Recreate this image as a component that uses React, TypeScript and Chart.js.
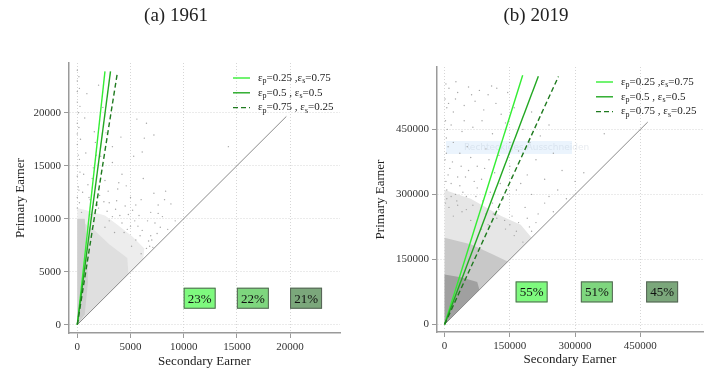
import React, { useEffect, useRef } from "react";
import { Chart, registerables } from "chart.js";
Chart.register(...registerables);

const FONT = "Liberation Serif";

// ---------- Panel (a) 1961 ----------
const titleA = "(a) 1961";
const ticksA = [0, 5000, 10000, 15000, 20000];
const diagA: number[][] = [[0, 0], [19650, 19650]];
const line25A: number[][] = [[0, 0], [2600, 23900]];
const line50A: number[][] = [[0, 0], [3120, 23900]];
const line75A: number[][] = [[0, 0], [3780, 23850]];
const cloudOuterA: number[][] = [[0, 0], [6200, 6200], [6300, 7200], [5200, 8300], [3800, 9400], [2600, 10300], [1200, 10700], [0, 11000]];
const cloudMidA: number[][] = [[0, 0], [4800, 4800], [4700, 6300], [3000, 7600], [1500, 9000], [0, 10000]];
const cloudCoreA: number[][] = [[0, 0], [700, 1000], [1000, 4000], [900, 7500], [700, 10000], [0, 10000]];
const pointsA: number[][] = [
  [0, 11000], [0, 12000], [100, 13000], [0, 14000], [0, 15000], [100, 16000], [0, 17000], [0, 18000], [0, 19000],
  [100, 20000], [0, 21000], [0, 22000], [0, 23000], [0, 24000], [200, 11500], [150, 12700], [250, 14400], [200, 15600],
  [300, 17500], [150, 18600], [250, 20600], [200, 22300], [150, 23400],
  [500, 12500], [1200, 11800], [2100, 12200], [3000, 11500], [3800, 12800], [4500, 11200], [5200, 10800], [6000, 11800],
  [6900, 10600], [7600, 11300], [8800, 11400], [2600, 13600], [1500, 14800], [4200, 14200], [3300, 15300], [800, 16200],
  [1700, 17200], [5300, 15900], [6200, 13800], [7200, 12400], [4800, 10400], [1000, 13200], [2800, 10700], [6600, 9800],
  [7800, 9200], [5700, 9300], [6900, 8400], [1600, 18200], [5600, 19400], [6500, 19000], [7200, 17900], [6300, 17600],
  [14200, 16800], [2400, 20500], [900, 21800], [3300, 16800], [6100, 16300], [4100, 17700], [2000, 22600], [700, 19500],
  [6500, 7200], [7000, 8000], [5900, 8400], [4700, 9000], [8000, 10200], [9200, 9800], [7500, 8600], [5400, 9800],
  [3600, 10900], [1900, 11300], [400, 10600], [1300, 10400], [5000, 12000], [2200, 15900], [4600, 13100], [8300, 12600],
  [3000, 9800], [4200, 9600], [5500, 8000], [6800, 7400], [7300, 9600], [8500, 9000], [2000, 11000], [3300, 10200],
  [4000, 10300], [5000, 9300], [6100, 8900], [6700, 7900], [7100, 7300], [3700, 11700], [2500, 11600], [1100, 12000],
  [5800, 10300], [4400, 8700], [5100, 7400], [6000, 6700], [3500, 8700], [2600, 9200], [7600, 10500], [8200, 11800],
  [1400, 13800], [2900, 12600], [3900, 13400], [5500, 11300], [600, 14200], [1800, 16000], [2700, 18100],
];
const boxXA = [11500, 16500, 21500];
const boxYA = [2500, 2500, 2500];
const boxLabelsA = ["23%", "22%", "21%"];

// ---------- Panel (b) 2019 ----------
const titleB = "(b) 2019";
const ticksB = [0, 150000, 300000, 450000];
const diagB: number[][] = [[0, 0], [467000, 467000]];
const line25B: number[][] = [[0, 0], [179500, 575000]];
const line50B: number[][] = [[0, 0], [215500, 572500]];
const line75B: number[][] = [[0, 0], [261700, 572000]];
const cloudOuterB: number[][] = [[0, 0], [200000, 200000], [175000, 230000], [130000, 250000], [60000, 290000], [0, 310000]];
const cloudMidB: number[][] = [[0, 0], [145000, 145000], [110000, 162000], [60000, 185000], [0, 200000]];
const cloudCoreB: number[][] = [[0, 0], [80000, 80000], [75000, 98000], [40000, 108000], [0, 115000]];
const pointsB: number[][] = [
  [10000, 545000], [30000, 535000], [55000, 548000], [80000, 540000], [100000, 530000], [120000, 545000], [145000, 535000],
  [25000, 520000], [70000, 515000], [5000, 500000], [20000, 490000], [45000, 505000], [90000, 495000], [130000, 485000],
  [160000, 500000], [200000, 490000], [15000, 460000], [40000, 445000], [65000, 455000], [110000, 440000], [140000, 465000],
  [180000, 450000], [220000, 435000], [367000, 440000], [8000, 410000], [35000, 395000], [60000, 385000], [95000, 405000],
  [125000, 390000], [170000, 400000], [210000, 380000], [250000, 395000], [12000, 360000], [30000, 340000], [55000, 355000],
  [85000, 335000], [115000, 350000], [150000, 365000], [190000, 345000], [230000, 335000], [270000, 355000], [320000, 350000],
  [5000, 310000], [25000, 300000], [50000, 295000], [75000, 315000], [105000, 305000], [135000, 290000], [165000, 310000],
  [200000, 300000], [240000, 295000], [280000, 290000], [10000, 270000], [40000, 260000], [65000, 275000], [95000, 255000],
  [125000, 265000], [155000, 250000], [185000, 270000], [215000, 255000], [250000, 260000], [100000, 230000], [140000, 220000],
  [170000, 235000], [195000, 225000], [160000, 205000], [180000, 190000], [200000, 215000], [120000, 245000], [2000, 280000],
  [3000, 330000], [1000, 380000], [4000, 430000], [2000, 470000], [1000, 520000], [3000, 555000], [20000, 420000],
  [45000, 470000], [75000, 365000], [110000, 280000], [35000, 320000], [60000, 240000], [85000, 220000], [20000, 250000],
  [5000, 290000], [8000, 345000], [4000, 395000], [6000, 450000], [9000, 510000], [15000, 325000], [18000, 375000],
  [28000, 285000], [42000, 305000], [48000, 340000], [38000, 365000], [52000, 410000], [68000, 330000], [72000, 295000],
  [88000, 285000], [92000, 360000], [102000, 380000], [128000, 325000], [145000, 300000], [155000, 340000], [175000, 325000],
  [112000, 255000], [138000, 240000], [150000, 230000], [165000, 215000], [190000, 245000], [210000, 235000], [230000, 280000],
  [78000, 250000], [50000, 265000], [30000, 275000], [15000, 295000], [260000, 310000], [300000, 330000], [26000, 560000],
  [62000, 530000], [108000, 550000], [86000, 470000], [118000, 510000], [150000, 420000], [196000, 420000], [240000, 460000],
];
const boxXB = [200000, 350000, 500000];
const boxYB = [75000, 75000, 75000];
const boxLabelsB = ["55%", "51%", "45%"];

// ---------- shared legend ----------
const legendLabels = ["ε_p=0.25 ,ε_s=0.75", "ε_p=0.5 , ε_s=0.5", "ε_p=0.75 , ε_s=0.25"];
const lineColors = ["#34ee34", "#22a822", "#1f7a1f"];
const lineDashes = [[], [], [5, 3]];
const boxColors = ["#7efa7e", "#7ed67e", "#7ba77b"];

const toXY = (arr: number[][]) => arr.map(([x, y]) => ({ x, y }));

type Cfg = {
  title: string; ticks: number[]; min: number; max: number;
  diag: number[][]; lines: number[][][]; clouds: number[][][]; cloudColors: string[];
  points: number[][]; boxX: number[]; boxY: number[]; boxLabels: string[];
  yWidth: number; xHeight: number; padRight: number; padTop: number; xTitlePad: number;
  ghost?: boolean;
};

function drawLegendText(ctx: CanvasRenderingContext2D, text: string, x: number, y: number) {
  let cx = x;
  let i = 0;
  while (i < text.length) {
    const ch = text[i];
    if (ch === "_") {
      ctx.font = `8px "${FONT}"`;
      ctx.fillText(text[i + 1], cx, y + 3);
      cx += ctx.measureText(text[i + 1]).width;
      i += 2;
    } else {
      ctx.font = `11px "${FONT}"`;
      ctx.fillText(ch, cx, y);
      cx += ctx.measureText(ch).width;
      i += 1;
    }
  }
}

function Panel({ cfg, left }: { cfg: Cfg; left: number }) {
  const ref = useRef<HTMLCanvasElement>(null);
  useEffect(() => {
    const clouds = {
      id: "clouds" + left,
      beforeDatasetsDraw(chart: any) {
        const ctx = chart.ctx as CanvasRenderingContext2D;
        const xs = chart.scales.x, ys = chart.scales.y;
        const area = chart.chartArea;
        ctx.save();
        ctx.beginPath();
        ctx.rect(area.left, area.top, area.right - area.left, area.bottom - area.top);
        ctx.clip();
        cfg.clouds.forEach((poly, i) => {
          ctx.fillStyle = cfg.cloudColors[i];
          ctx.beginPath();
          poly.forEach(([x, y], j) => {
            const px = xs.getPixelForValue(x), py = ys.getPixelForValue(y);
            if (j === 0) ctx.moveTo(px, py); else ctx.lineTo(px, py);
          });
          ctx.closePath();
          ctx.fill();
        });
        if (cfg.ghost) {
          ctx.fillStyle = "rgba(228,240,252,0.75)";
          ctx.fillRect(area.left + 9, area.top + 74, 126, 13);
          ctx.fillStyle = "rgba(175,190,205,0.3)";
          ctx.font = `9px "DejaVu Sans"`;
          ctx.textBaseline = "middle";
          ctx.fillText("Rechteckiges Ausschneiden", area.left + 27, area.top + 80.5);
        }
        ctx.restore();
      },
    };
    const overlay = {
      id: "overlay" + left,
      afterDatasetsDraw(chart: any) {
        const ctx = chart.ctx as CanvasRenderingContext2D;
        const xs = chart.scales.x, ys = chart.scales.y;
        const area = chart.chartArea;
        ctx.save();
        ctx.textBaseline = "middle";
        ctx.fillStyle = "#222";
        for (let i = 0; i < legendLabels.length; i++) {
          const y = area.top + 15 + i * 14.8;
          const x0 = area.right - 107;
          ctx.strokeStyle = lineColors[i];
          ctx.lineWidth = 1.4;
          ctx.setLineDash(lineDashes[i]);
          ctx.beginPath();
          ctx.moveTo(x0, y);
          ctx.lineTo(x0 + 17, y);
          ctx.stroke();
          ctx.setLineDash([]);
          ctx.fillStyle = "#222";
          drawLegendText(ctx, legendLabels[i], x0 + 25, y);
        }
        for (let i = 0; i < cfg.boxLabels.length; i++) {
          const cx = xs.getPixelForValue(cfg.boxX[i]);
          const cy = ys.getPixelForValue(cfg.boxY[i]);
          const w = 32, h = 21;
          ctx.fillStyle = boxColors[i];
          ctx.fillRect(cx - w / 2, cy - h / 2, w, h);
          ctx.strokeStyle = "#566356";
          ctx.lineWidth = 1;
          ctx.strokeRect(cx - w / 2 + 0.5, cy - h / 2 + 0.5, w - 1, h - 1);
          ctx.fillStyle = "#111";
          ctx.font = `13px "${FONT}"`;
          ctx.textAlign = "center";
          ctx.textBaseline = "middle";
          ctx.fillText(cfg.boxLabels[i], cx, cy + 1);
          ctx.textAlign = "left";
        }
        ctx.restore();
      },
    };

    const axisCommon = (isX: boolean) => ({
      type: "linear" as const,
      min: cfg.min,
      max: cfg.max,
      afterBuildTicks: (s: any) => { s.ticks = cfg.ticks.map((v) => ({ value: v })); },
      afterFit: (s: any) => { if (isX) s.height = cfg.xHeight; else s.width = cfg.yWidth; },
      grid: { color: "#d6d6d6", lineWidth: 1, tickLength: 5, tickColor: "#9a9a9a", tickBorderDash: [], tickWidth: 1 },
      border: { display: true, color: "#9a9a9a", width: 1.5, dash: [1, 2] },
      ticks: {
        color: "#333", font: { family: FONT, size: 11 }, padding: 3, maxRotation: 0, autoSkip: false,
        callback: (v: any) => String(v),
      },
      title: {
        display: true, text: isX ? "Secondary Earner" : "Primary Earner", color: "#222",
        font: { family: FONT, size: 13 },
        padding: isX ? { top: 0, bottom: cfg.xTitlePad } : { top: 13, bottom: 0 },
      },
    });

    const datasets: any[] = [];
    datasets.push({
      type: "scatter", data: toXY(cfg.points), pointRadius: 0.7, pointBorderWidth: 0,
      backgroundColor: "#a6a6a6", borderColor: "#a6a6a6", order: 10,
    });
    datasets.push({
      type: "line", data: toXY(cfg.diag), borderColor: "#8a8a8a", borderWidth: 1, pointRadius: 0, fill: false, order: 5,
    });
    cfg.lines.forEach((ln, i) => {
      datasets.push({
        type: "line", data: toXY(ln), borderColor: lineColors[i], borderWidth: 1.4, borderDash: lineDashes[i],
        pointRadius: 0, fill: false, order: 3 - i,
      });
    });

    const chart = new Chart(ref.current!, {
      type: "scatter",
      data: { datasets },
      options: {
        animation: false,
        responsive: false,
        devicePixelRatio: 1,
        layout: { padding: { left: 0, right: cfg.padRight, top: cfg.padTop, bottom: 0 } },
        plugins: { legend: { display: false }, tooltip: { enabled: false }, title: { display: false } },
        scales: { x: axisCommon(true) as any, y: axisCommon(false) as any },
      },
      plugins: [clouds, overlay],
    });
    return () => chart.destroy();
  }, []);
  return (
    <div style={{ position: "absolute", left, top: 0, width: 360, height: 376 }}>
      <canvas ref={ref} width={360} height={376} style={{ position: "absolute", left: 0, top: 0 }} />
      <div style={{
        position: "absolute", left: 0, top: 4, width: 352, textAlign: "center",
        fontFamily: `"${FONT}"`, fontSize: 19, lineHeight: "22px", color: "#222",
      }}>{cfg.title}</div>
    </div>
  );
}

const cfgA: Cfg = {
  title: titleA, ticks: ticksA, min: -780, max: 24690,
  diag: diagA, lines: [line25A, line50A, line75A],
  clouds: [cloudOuterA, cloudMidA, cloudCoreA], cloudColors: ["#ededed", "#dfdfdf", "#cecece"],
  points: pointsA, boxX: boxXA, boxY: boxYA, boxLabels: boxLabelsA,
  yWidth: 69, xHeight: 43, padRight: 20, padTop: 63, xTitlePad: 7,
};
const cfgB: Cfg = {
  title: titleB, ticks: ticksB, min: -17500, max: 594000,
  diag: diagB, lines: [line25B, line50B, line75B],
  clouds: [cloudOuterB, cloudMidB, cloudCoreB], cloudColors: ["#e6e6e6", "#c8c8c8", "#a0a0a0"],
  points: pointsB, boxX: boxXB, boxY: boxYB, boxLabels: boxLabelsB,
  yWidth: 77, xHeight: 44, padRight: 17, padTop: 67, xTitlePad: 9, ghost: true,
};

export default function App() {
  return (
    <div style={{ position: "fixed", left: 0, top: 0, width: 720, height: 376, background: "#fff" }}>
      <Panel cfg={cfgA} left={0} />
      <Panel cfg={cfgB} left={360} />
    </div>
  );
}
